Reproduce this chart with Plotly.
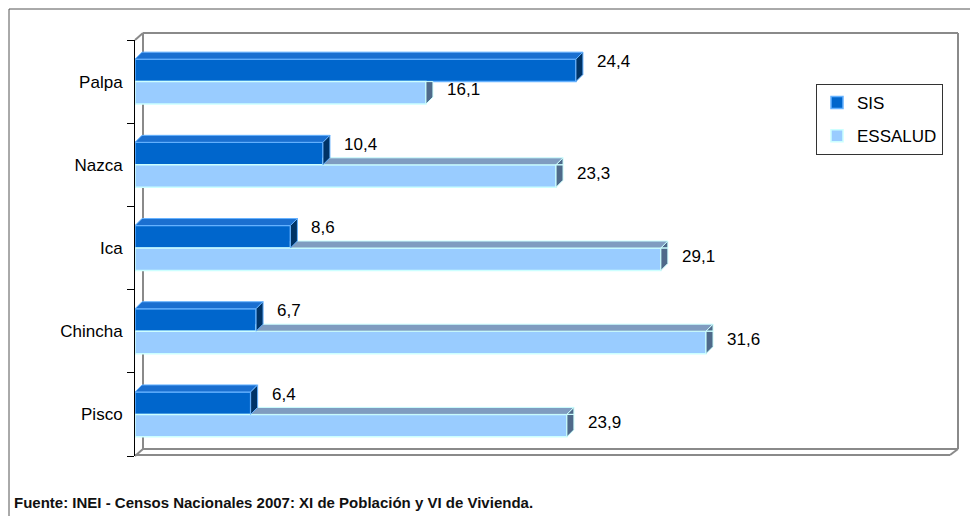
import plotly.graph_objects as go

# ---- data ----
categories = ["Pisco", "Chincha", "Ica", "Nazca", "Palpa"]   # bottom -> top
sis = [6.4, 6.7, 8.6, 10.4, 24.4]
essalud = [23.9, 31.6, 29.1, 23.3, 16.1]
series_names = ["SIS", "ESSALUD"]
footer = "Fuente: INEI - Censos Nacionales 2007: XI de Población y VI de Vivienda."

# ---- geometry (pixels, in page coordinates; page body has an 8px margin) ----
OFF = 8
W, H = 978, 516
L, R, T, B = 135 - OFF, 950 - OFF, 40 - OFF, 456 - OFF
XMAX = 45.1
BW = 0.27                    # bar thickness (category units)
DEPX, DEPY = 7, 7            # bar depth in px
DX = DEPX * XMAX / (R - L)
DY = DEPY * 5.0 / (B - T)
pos = list(range(len(categories)))

FONT = "Liberation Sans, Arial, sans-serif"


def px(x):
    return (x - OFF - L) / (R - L)


def py(y):
    return (B - (y - OFF)) / (B - T)


def clip(poly, f):
    out = []
    n = len(poly)
    for i in range(n):
        a, b = poly[i], poly[(i + 1) % n]
        fa, fb = f(a), f(b)
        if fa >= 0:
            out.append(a)
        if (fa >= 0) != (fb >= 0):
            t = fa / (fa - fb)
            out.append((a[0] + t * (b[0] - a[0]), a[1] + t * (b[1] - a[1])))
    return out


def area(p):
    s = 0
    for i in range(len(p)):
        x1, y1 = p[i]
        x2, y2 = p[(i + 1) % len(p)]
        s += x1 * y2 - x2 * y1
    return abs(s) / 2


def polys_to_xy(polys):
    xs, ys = [], []
    for p in polys:
        if len(p) < 3 or area(p) < 1e-6:
            continue
        xs += [q[0] for q in p] + [p[0][0], None]
        ys += [q[1] for q in p] + [p[0][1], None]
    return xs, ys


def visible_parts(poly, c, s):
    # hide the part covered by the SIS front face [0,s] x [c, c+BW]
    lower = clip(poly, lambda p: c - p[1])
    upper = clip(poly, lambda p: p[1] - c)
    upper = clip(upper, lambda p: p[0] - s)
    return [lower, upper]


ess_top, ess_side, sis_top, sis_side = [], [], [], []
for c, s, e in zip(pos, sis, essalud):
    top = [(0, c), (e, c), (e + DX, c + DY), (DX, c + DY)]
    side = [(e, c - BW), (e + DX, c - BW + DY), (e + DX, c + DY), (e, c)]
    ess_top += visible_parts(top, c, s)
    ess_side += visible_parts(side, c, s)
    sis_top.append([(0, c + BW), (s, c + BW), (s + DX, c + BW + DY), (DX, c + BW + DY)])
    sis_side.append([(s, c), (s + DX, c + DY), (s + DX, c + BW + DY), (s, c + BW)])

fig = go.Figure()
fig.add_trace(go.Bar(
    y=pos, x=sis, orientation="h", name=series_names[0], offset=0, width=BW,
    marker=dict(color="#0066cc", line=dict(color="#66b2ff", width=1.5)),
    legendgroup="a", hoverinfo="x"))
fig.add_trace(go.Bar(
    y=pos, x=essalud, orientation="h", name=series_names[1], offset=-BW, width=BW,
    marker=dict(color="#99ccff", line=dict(color="#ccffff", width=1.5)),
    legendgroup="b", hoverinfo="x"))

for polys, fc, lc in [(ess_top, "#7f9cc0", "#ccffff"), (ess_side, "#4f6a8a", "#ccffff"),
                      (sis_top, "#1a6fd0", "#66b2ff"), (sis_side, "#003366", "#66b2ff")]:
    xs, ys = polys_to_xy(polys)
    fig.add_trace(go.Scatter(x=xs, y=ys, mode="lines", fill="toself", fillcolor=fc,
                             line=dict(color=lc, width=1), showlegend=False,
                             hoverinfo="skip"))

# data labels
for c, s, e in zip(pos, sis, essalud):
    fig.add_annotation(x=s, y=c + BW / 2, text=f"{s:.1f}".replace(".", ","),
                       showarrow=False, xanchor="left", xshift=19, yshift=9,
                       font=dict(size=17, color="black", family=FONT))
    fig.add_annotation(x=e, y=c - BW / 2, text=f"{e:.1f}".replace(".", ","),
                       showarrow=False, xanchor="left", xshift=19, yshift=3,
                       font=dict(size=17, color="black", family=FONT))

fig.add_annotation(x=px(12), y=py(502), xref="paper", yref="paper", text="<b>" + footer + "</b>",
                   showarrow=False, xanchor="left", yanchor="middle",
                   font=dict(size=15, color="#111", family=FONT))

gray = "#8a8a8a"
shapes = []


def seg(x0, y0, x1, y1, color=gray, w=2):
    shapes.append(dict(type="line", xref="paper", yref="paper", x0=px(x0), y0=py(y0),
                       x1=px(x1), y1=py(y1), line=dict(color=color, width=w), layer="below"))


# outer border
shapes.append(dict(type="rect", xref="paper", yref="paper", x0=px(9), y0=py(9), x1=px(1000),
                   y1=py(540), line=dict(color="#555", width=1), layer="below"))
# back wall & floor
seg(143, 33, 958, 33)
seg(958, 33, 958, 449)
seg(143, 33, 143, 449)
seg(143, 449, 958, 449)
seg(135, 40, 143, 33)
seg(135, 455, 950, 455)
seg(950, 455, 958, 449)
seg(135, 456, 143, 449)
fig.update_layout(shapes=shapes)

fig.update_layout(
    width=W, height=H,
    margin=dict(l=L, r=W - R, t=T, b=H - B, pad=0),
    paper_bgcolor="white", plot_bgcolor="rgba(0,0,0,0)",
    barmode="overlay",
    showlegend=True,
    legend=dict(x=px(816), y=py(84), xanchor="left", yanchor="top",
                bordercolor="#333", borderwidth=1, bgcolor="white",
                font=dict(size=17, color="black", family=FONT),
                tracegroupgap=8, traceorder="grouped"),
    xaxis=dict(range=[0, XMAX], showgrid=False, zeroline=False, showticklabels=False,
               showline=False, fixedrange=True),
    yaxis=dict(range=[-0.5, 4.5], tickvals=pos, ticktext=categories, ticks="",
               showgrid=False, zeroline=False, showline=True, linecolor="black", linewidth=1,
               tickfont=dict(size=17, color="black", family=FONT), ticklabelstandoff=8,
               minor=dict(tickvals=[p - 0.5 for p in pos] + [pos[-1] + 0.5], ticks="outside",
                          ticklen=7, tickcolor="black", tickwidth=1, showgrid=False),
               fixedrange=True),
    font=dict(family=FONT),
)

fig.write_html("out.html")
